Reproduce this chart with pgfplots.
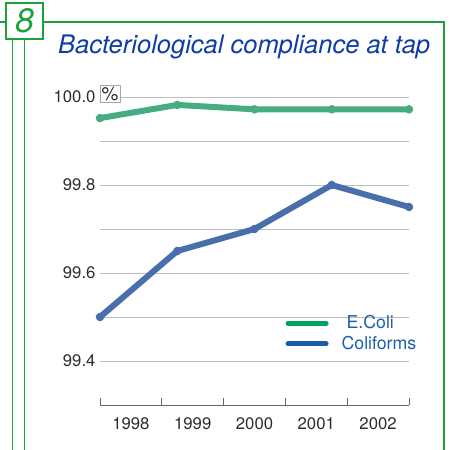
\documentclass[border=0pt]{standalone}
\usepackage{pgfplots}
\pgfplotsset{compat=1.18}
\usepackage{fontspec}
\setmainfont{TeX Gyre Heros}
\definecolor{frame}{RGB}{30,160,60}
\definecolor{titleblue}{RGB}{15,60,165}
\definecolor{ecoli}{RGB}{70,172,130}
\definecolor{ecolileg}{RGB}{0,160,95}
\definecolor{coli}{RGB}{72,110,172}
\definecolor{colileg}{RGB}{25,90,170}
\definecolor{legtext}{RGB}{30,95,170}
\definecolor{ticktext}{RGB}{45,45,45}
\definecolor{gridgray}{RGB}{190,190,190}
\begin{document}
\begin{tikzpicture}
\useasboundingbox (0bp,0bp) rectangle (453bp,450bp);
% frame
\draw[frame, line width=1.4bp] (0bp,428bp) -- (6bp,428bp);
\draw[frame, line width=1.4bp] (43bp,428bp) -- (444bp,428bp) -- (444bp,0bp);
\draw[frame, line width=1.4bp] (12.5bp,411bp) -- (12.5bp,0bp);
\draw[frame, line width=1.4bp] (24.5bp,411bp) -- (24.5bp,0bp);
\draw[frame, line width=1.4bp, fill=white] (6bp,411bp) rectangle (43bp,447bp);
\node[frame, font=\fontsize{34}{34}\selectfont\itshape] at (24.5bp,429bp) {8};
\node[anchor=base west, titleblue, font=\fontsize{25.6}{25.6}\selectfont\itshape, inner sep=0pt] at (58bp,396bp) {Bacteriological compliance at tap};
\begin{axis}[
  at={(100bp,45bp)}, anchor=south west,
  scale only axis, width=309bp, height=308bp,
  xmin=0, xmax=5, ymin=99.3, ymax=100.0,
  clip=false,
  axis x line=bottom, axis y line=left,
  x axis line style={-, draw=gray!80!black, line width=0.8bp},
  y axis line style={draw=none},
  xtick={0.5,1.5,2.5,3.5,4.5},
  xticklabels={1998,1999,2000,2001,2002},
  minor xtick={0,1,2,3,4,5},
  major x tick style={draw=none},
  minor x tick style={draw=gray!80!black, line width=0.8bp},
  minor tick length=7bp,
  tick align=inside,
  ytick={99.4,99.6,99.8,100.0},
  minor ytick={99.5,99.7,99.9},
  y tick style={draw=none},
  ymajorgrids, yminorgrids,
  major grid style={gridgray, line width=0.8bp},
  minor grid style={gridgray, line width=0.8bp},
  yticklabel style={/pgf/number format/fixed, /pgf/number format/fixed zerofill, /pgf/number format/precision=1, xshift=-1bp},
  /pgf/number format/assume math mode=true,
  tick label style={font=\fontsize{16.8}{16.8}\selectfont, text=ticktext},
  xticklabel style={yshift=-9bp},
  legend style={at={(axis cs:3.0,99.508)}, anchor=north west, draw=none, fill=none, inner sep=0pt,
    font=\fontsize{17.8}{17.8}\selectfont, text=legtext, row sep=2bp,
    /tikz/every even column/.append style={column sep=0pt}},
  legend cell align=left,
  legend image code/.code={\draw[#1, line width=5bp, line cap=round] (0bp,0bp) -- (38bp,0bp);},
]
\addplot[ecoli, line width=6bp, line cap=round, line join=round, mark=*, mark size=1.3bp, mark options={fill=ecolileg!85!black, draw=none}, forget plot]
  coordinates {(0,99.952) (1.25,99.982) (2.5,99.972) (3.75,99.972) (5,99.972)};
\addplot[coli, line width=6bp, line cap=round, line join=round, mark=*, mark size=1.3bp, mark options={fill=colileg!85!black, draw=none}, forget plot]
  coordinates {(0,99.50) (1.25,99.65) (2.5,99.70) (3.75,99.80) (5,99.75)};
\addlegendimage{ecolileg}
\addlegendentry{\hspace{16bp}E.Coli}
\addlegendimage{colileg}
\addlegendentry{\hspace{11bp}Coliforms}
\end{axis}
\node[draw=gray!70, fill=white, line width=0.8bp, inner sep=1bp, font=\fontsize{19}{19}\selectfont, text=ticktext, minimum width=20bp, minimum height=17bp] at (110bp,356bp) {\%};
\end{tikzpicture}
\end{document}
